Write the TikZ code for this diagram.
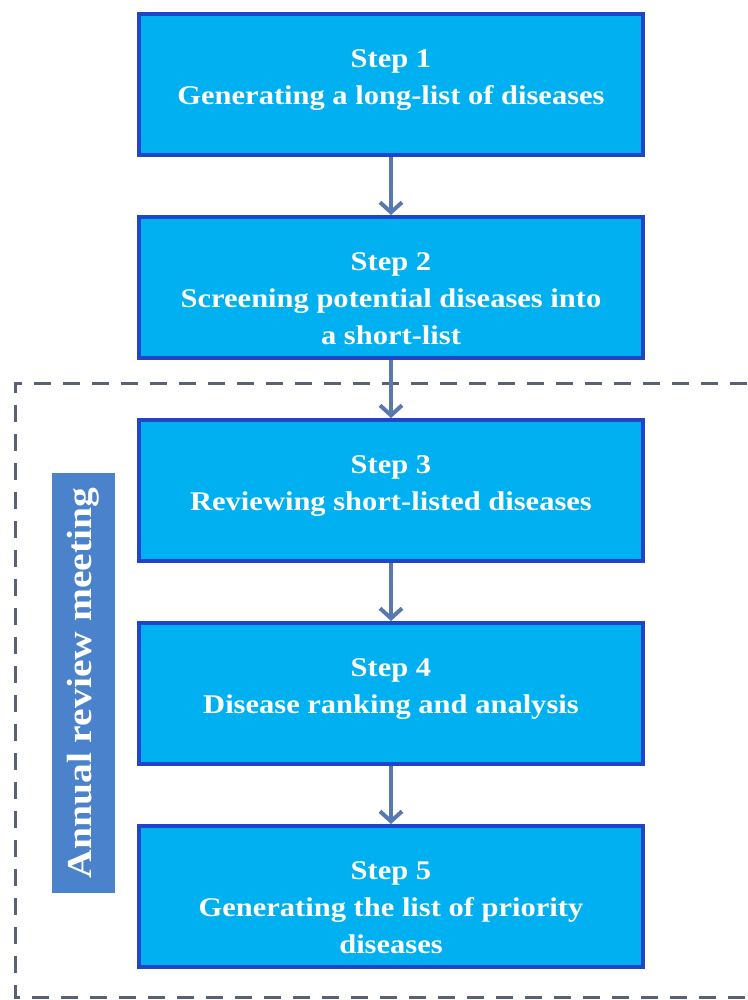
\documentclass[tikz,border=0pt]{standalone}
\usepackage{fontspec}
\setmainfont{Liberation Serif}
\newfontfamily\widefont[FakeStretch=1.13]{Liberation Serif}
\usetikzlibrary{positioning,arrows.meta}

\definecolor{stepfill}{HTML}{00B0F0}
\definecolor{stepedge}{HTML}{1F45C8}
\definecolor{flowcol}{HTML}{5878B0}
\definecolor{meetfill}{HTML}{4A82CC}
\definecolor{dashcol}{HTML}{586274}

\begin{document}
\begin{tikzpicture}[x=1pt,y=1pt,
  stepbox/.style={draw=stepedge, line width=4pt, fill=stepfill,
    minimum width=504pt, minimum height=141pt, inner sep=0pt,
    text=white, font=\widefont\bfseries\fontsize{27}{37}\selectfont,
    execute at begin node={\begin{minipage}[c][69pt][t]{490pt}\centering},
    execute at end node={\end{minipage}}},
  flow/.style={draw=flowcol, line width=4pt, -{Straight Barb[length=10pt,width=22pt]}},
  node distance=58pt]
\useasboundingbox (0,0) rectangle (747,-1000);
% annual review frame
\draw [dashcol, line width=3pt, dash pattern=on 17pt off 12pt]
  (747,-383) -- (15,-383) -- (15,-997) -- (747,-997);
% steps
\node [stepbox] (s1) at (391,-84.5) {Step 1\\Generating a long-list of diseases};
\node [stepbox, below=of s1] (s2) {Step 2\\Screening potential diseases into\\a short-list};
\node [stepbox, below=of s2] (s3) {Step 3\\Reviewing short-listed diseases};
\node [stepbox, below=of s3] (s4) {Step 4\\Disease ranking and analysis};
\node [stepbox, below=of s4] (s5) {Step 5\\Generating the list of priority\\diseases};
\draw [flow] (s1) -- (s2);
\draw [flow] (s2) -- (s3);
\draw [flow] (s3) -- (s4);
\draw [flow] (s4) -- (s5);
% side label
\node [fill=meetfill, rotate=90, minimum width=420pt, minimum height=63pt,
  text=white, font=\widefont\bfseries\fontsize{35}{40}\selectfont] (meet) at (83.5,-683)
  {Annual review meeting};
\end{tikzpicture}
\end{document}
